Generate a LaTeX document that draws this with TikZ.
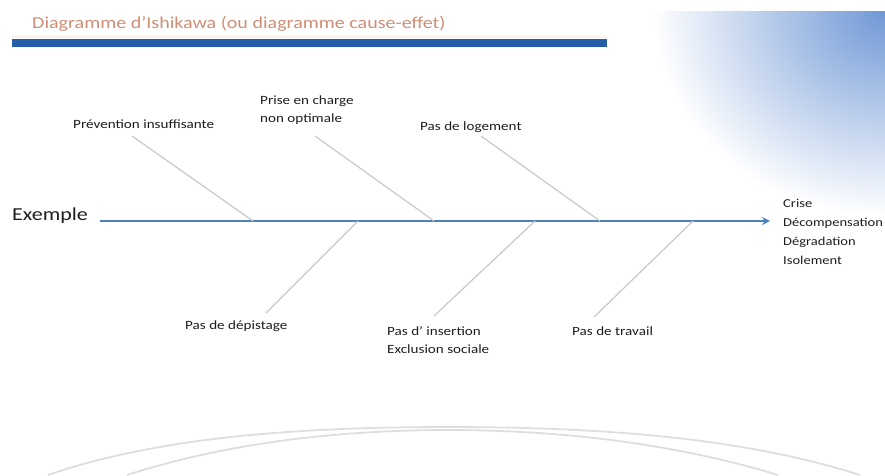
\documentclass[tikz,border=0pt]{standalone}
\usepackage{fontspec}
\setmainfont[FakeStretch=1.2]{Carlito}
\usetikzlibrary{arrows.meta}
\definecolor{titlecol}{RGB}{206,142,118}
\definecolor{barblue}{RGB}{36,94,166}
\definecolor{axisblue}{RGB}{79,129,189}
\definecolor{bonegray}{RGB}{200,200,200}
\definecolor{arcgray}{RGB}{222,222,222}
\definecolor{cornerblue}{RGB}{112,152,214}
\definecolor{textgray}{RGB}{30,30,30}
\tikzset{
  lbl/.style={inner sep=0pt, anchor=base west, text=textgray, align=left,
    font=\fontsize{12.6}{17.8}\selectfont},
  bone/.style={draw=bonegray, line width=1.2pt},
  arcline/.style={draw=arcgray, line width=1.8pt},
}
\begin{document}
\begin{tikzpicture}[x=1pt,y=-1pt]
\useasboundingbox (0,0) rectangle (885,475);
% top-right decoration
\begin{scope}
  \clip (650,11) rectangle (885,260);
  \shade[inner color=cornerblue, outer color=white] (885,11) ellipse (232 and 205);
\end{scope}
% title and bar
\node[inner sep=0pt, anchor=base west, text=titlecol, font=\fontsize{16.7}{20}\selectfont]
  (title) at (32,28) {Diagramme d’Ishikawa (ou diagramme cause-effet)};
\fill[white!88!titlecol] (12,35.5) rectangle (607,37.5);
\fill[barblue] (12,39) rectangle (607,46.5);
% spine
\node[inner sep=0pt, anchor=base west, text=textgray, font=\fontsize{18.3}{22}\selectfont]
  (ex) at (12,220) {Exemple};
\coordinate (s0) at (100,221);
\coordinate (s1) at (770,221);
\draw[axisblue, line width=2.4pt, -{Stealth[length=8pt,width=8pt]}] (s0) -- (s1);
% effect (base = last line)
\node[lbl, font=\fontsize{12.1}{18.8}\selectfont] (eff) at (783,264)
  {Crise\\Décompensation\\Dégradation\\Isolement};
% upper causes
\node[lbl] (c1) at (73,128) {Prévention insuffisante};
\node[lbl] (c2) at (260,122) {Prise en charge\\non optimale};
\node[lbl] (c3) at (420,130) {Pas de logement};
% lower causes
\node[lbl] (c4) at (185,329) {Pas de dépistage};
\node[lbl] (c5) at (387,353) {Pas d’ insertion\\Exclusion sociale};
\node[lbl] (c6) at (572,335) {Pas de travail};
% bone ends
\coordinate (b1t) at (132,136); \coordinate (b1a) at (253,221);
\coordinate (b2t) at (315,136); \coordinate (b2a) at (434,221);
\coordinate (b3t) at (481,136); \coordinate (b3a) at (600,221);
\coordinate (b4t) at (266,313); \coordinate (b4a) at (358,221);
\coordinate (b5t) at (434,316); \coordinate (b5a) at (535,221);
\coordinate (b6t) at (594,317); \coordinate (b6a) at (693,221);
\foreach \i in {1,...,6} { \draw[bone] (b\i t) -- (b\i a); }
% bottom arcs
\coordinate (a1l) at (48,475); \coordinate (a1m) at (448,427); \coordinate (a1r) at (860,475);
\coordinate (a2l) at (127,475); \coordinate (a2m) at (448,430); \coordinate (a2r) at (778,475);
\draw[arcline] (a1l) .. controls (150,440) and (280,427) .. (a1m)
                     .. controls (616,427) and (750,440) .. (a1r);
\draw[arcline] (a2l) .. controls (220,445) and (330,430) .. (a2m)
                     .. controls (566,430) and (680,445) .. (a2r);
\end{tikzpicture}
\end{document}
